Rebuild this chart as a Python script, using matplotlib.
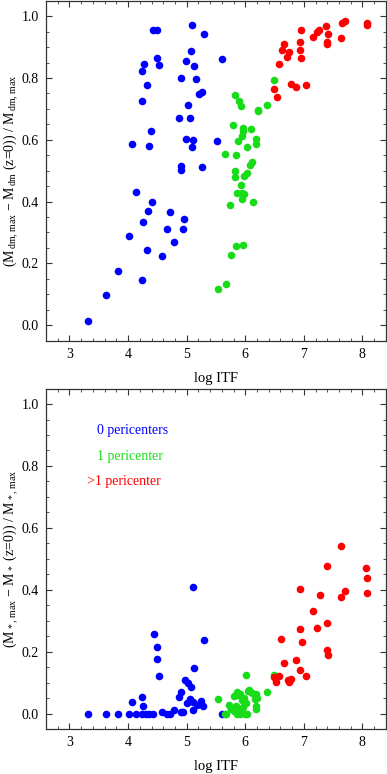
import matplotlib
matplotlib.use("Agg")
import matplotlib.pyplot as plt
from matplotlib.ticker import MultipleLocator, FormatStrFormatter

plt.rcParams['font.family'] = ['Liberation Serif', 'DejaVu Serif']
plt.rcParams['mathtext.fontset'] = 'custom'
plt.rcParams['mathtext.rm'] = 'Liberation Serif'
plt.rcParams['mathtext.it'] = 'Liberation Serif:italic'

BLUE = "#0000ff"
GREEN = "#18dc18"
RED = "#ff0000"

# ---- top panel: dark matter mass loss ----
dm_blue_x = [4.06, 4.14, 4.24, 4.24, 4.27, 4.32, 4.36, 4.39, 4.43, 4.50, 4.49, 4.53,
             4.87, 4.90, 4.91, 4.91, 4.99, 4.99, 5.02, 5.05, 5.07, 5.09, 5.10, 5.09,
             5.13, 5.16, 5.21, 5.27, 5.26, 5.29, 5.52, 5.61,
             4.40, 4.34, 4.26, 4.01, 4.33, 4.58, 4.72, 4.67, 4.93, 4.95, 4.78,
             3.82, 4.24, 3.63, 3.31]
dm_blue_y = [0.585, 0.431, 0.724, 0.822, 0.844, 0.778, 0.581, 0.629, 0.957, 0.957, 0.866, 0.843,
             0.669, 0.801, 0.515, 0.502, 0.856, 0.604, 0.714, 0.672, 0.886, 0.973, 0.600, 0.578,
             0.840, 0.796, 0.749, 0.754, 0.513, 0.943, 0.597, 0.860,
             0.400, 0.370, 0.333, 0.287, 0.242, 0.225, 0.367, 0.312, 0.310, 0.342, 0.269,
             0.174, 0.145, 0.097, 0.014]

dm_green_x = [5.83, 5.89, 5.93, 6.21, 6.21, 6.37, 5.79, 5.96, 5.96, 6.10, 5.95, 6.18,
              6.19, 5.87, 6.03, 5.66, 5.85, 6.12, 6.08, 5.83, 6.03, 5.98, 5.83, 5.92,
              5.86, 5.94, 5.98, 5.94, 5.74, 6.13, 6.49,
              5.84, 5.97, 5.76, 5.53, 5.68]
dm_green_y = [0.744, 0.725, 0.709, 0.697, 0.692, 0.714, 0.649, 0.638, 0.629, 0.635, 0.612, 0.601,
              0.585, 0.595, 0.576, 0.554, 0.552, 0.529, 0.517, 0.498, 0.494, 0.484, 0.478, 0.453,
              0.428, 0.428, 0.426, 0.407, 0.390, 0.397, 0.792,
              0.257, 0.260, 0.226, 0.117, 0.132]

dm_red_x = [6.49, 6.54, 6.58, 6.62, 6.67, 6.74, 6.72, 6.78, 6.87, 6.95, 6.93, 6.94,
            6.96, 7.03, 7.16, 7.22, 7.26, 7.38, 7.41, 7.39, 7.39, 7.63, 7.65, 7.70,
            8.07, 8.07]
dm_red_y = [0.763, 0.740, 0.844, 0.891, 0.909, 0.884, 0.867, 0.779, 0.772, 0.957, 0.917, 0.892,
            0.866, 0.776, 0.932, 0.950, 0.956, 0.969, 0.944, 0.916, 0.911, 0.930, 0.977, 0.984,
            0.979, 0.973]

# ---- bottom panel: stellar mass loss ----
st_blue_x = [3.31, 3.63, 3.82, 4.01, 4.06, 4.14, 4.24, 4.25, 4.24, 4.31, 4.36, 4.42,
             4.45, 4.50, 4.49, 4.53, 4.58, 4.66, 4.72, 4.78, 4.87, 4.90, 4.91, 4.94,
             4.98, 5.02, 5.07, 5.00, 5.05, 5.10, 5.10, 5.10, 5.13, 5.18, 5.24, 5.28,
             5.29, 5.60]
st_blue_y = [0.0, 0.0, 0.0, 0.0, 0.037, 0.0, 0.053, 0.024, 0.0, 0.0, 0.0, 0.0,
             0.258, 0.216, 0.176, 0.120, 0.006, 0.0, 0.0, 0.011, 0.055, 0.070, 0.004, 0.004,
             0.110, 0.099, 0.086, 0.034, 0.047, 0.038, 0.013, 0.409, 0.148, 0.029, 0.040, 0.026,
             0.238, 0.0]

st_green_x = [5.53, 5.66, 5.68, 5.73, 5.76, 5.81, 5.84, 5.83, 5.86, 5.91, 5.99, 5.86,
              5.91, 5.94, 5.96, 6.01, 5.98, 6.02, 6.07, 6.12, 6.03, 6.18, 6.20, 6.18,
              6.19, 6.38, 6.49, 5.80, 5.89, 5.94, 5.88, 6.05, 6.17]
st_green_y = [0.048, 0.0, 0.0, 0.029, 0.016, 0.056, 0.026, 0.013, 0.0, 0.0, 0.0, 0.070,
              0.065, 0.043, 0.022, 0.034, 0.052, 0.125, 0.077, 0.067, 0.0, 0.065, 0.049, 0.024,
              0.016, 0.069, 0.125, 0.009, 0.013, 0.008, 0.060, 0.072, 0.047]

st_red_x = [7.39, 7.64, 8.06, 8.07, 8.07, 6.93, 7.27, 7.70, 7.63, 7.16, 6.93, 7.23,
            7.39, 6.61, 6.97, 7.39, 7.41, 6.67, 6.87, 6.94, 6.58, 6.78, 6.73, 6.74,
            7.03, 6.49, 6.53]
st_red_y = [0.476, 0.540, 0.470, 0.437, 0.390, 0.404, 0.384, 0.397, 0.376, 0.332, 0.272, 0.275,
            0.294, 0.241, 0.232, 0.204, 0.190, 0.162, 0.173, 0.141, 0.123, 0.112, 0.108, 0.101,
            0.122, 0.118, 0.103]

legend_labels = ["0 pericenters", "1 pericenter", ">1 pericenter"]

fig = plt.figure(figsize=(3.87, 7.74), dpi=100)
ax1 = fig.add_axes([0.119, 0.560, 0.878, 0.439])
ax2 = fig.add_axes([0.119, 0.058, 0.878, 0.440])


def style(ax, ylabel):
    ax.set_xlim(2.6, 8.4)
    ax.set_ylim(-0.05, 1.05)
    ax.xaxis.set_major_locator(MultipleLocator(1))
    ax.xaxis.set_minor_locator(MultipleLocator(0.2))
    ax.yaxis.set_major_locator(MultipleLocator(0.2))
    ax.yaxis.set_minor_locator(MultipleLocator(0.05))
    ax.yaxis.set_major_formatter(FormatStrFormatter('%.1f'))
    ax.tick_params(which='both', direction='in', top=True, right=True,
                   color='#333333', labelsize=10)
    ax.tick_params(which='major', length=4.5, width=0.8, pad=5)
    ax.tick_params(which='minor', length=2.5, width=0.6)
    for s in ax.spines.values():
        s.set_color('#333333')
        s.set_linewidth(0.9)
    ax.set_xlabel("log ITF", fontsize=10.5, labelpad=8)
    ax.set_ylabel(ylabel, fontsize=10, labelpad=1)


ms = 30
ax1.scatter(dm_blue_x, dm_blue_y, s=ms, color=BLUE, lw=0, zorder=3)
ax1.scatter(dm_green_x, dm_green_y, s=ms, color=GREEN, lw=0, zorder=3)
ax1.scatter(dm_red_x, dm_red_y, s=ms, color=RED, lw=0, zorder=3)
style(ax1, r"(M$_{\,\rm dm,\,max}$ $-$ M$_{\,\rm dm}$ (z=0)) / M$_{\,\rm dm,\,max}$")

ax2.scatter(st_blue_x, st_blue_y, s=ms, color=BLUE, lw=0, zorder=3)
ax2.scatter(st_green_x, st_green_y, s=ms, color=GREEN, lw=0, zorder=3)
ax2.scatter(st_red_x, st_red_y, s=ms, color=RED, lw=0, zorder=3)
style(ax2, r"(M$_{\,\rm *,\,max}$ $-$ M$_{\,\rm *}$ (z=0)) / M$_{\,\rm *,\,max}$")

ax2.text(3.47, 0.915, legend_labels[0], color=BLUE, fontsize=10, va='center')
ax2.text(3.47, 0.832, legend_labels[1], color=GREEN, fontsize=10, va='center')
ax2.text(3.30, 0.750, legend_labels[2], color=RED, fontsize=10, va='center')

fig.savefig("out.png", dpi=100)
